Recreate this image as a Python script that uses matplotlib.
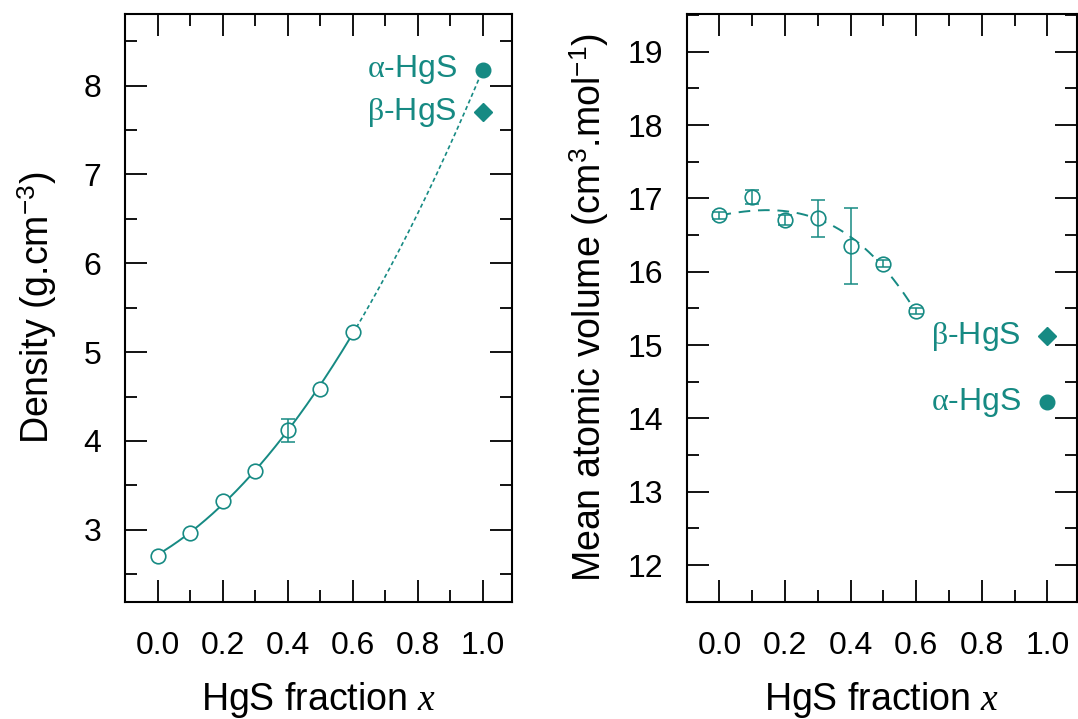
import numpy as np
import matplotlib
matplotlib.use("Agg")
import matplotlib.pyplot as plt
from matplotlib.ticker import MultipleLocator

# ---- data ----
x_glass = [0.0, 0.1, 0.2, 0.3, 0.4, 0.5, 0.6]
density = [2.71, 2.96, 3.33, 3.66, 4.12, 4.585, 5.23]
density_err = [0.0, 0.0, 0.0, 0.0, 0.13, 0.0, 0.0]
volume = [16.77, 17.02, 16.71, 16.73, 16.35, 16.11, 15.46]
volume_err = [0.05, 0.10, 0.07, 0.25, 0.52, 0.05, 0.04]
# dashed fit line through the volume data
volume_fit = [16.77, 16.83, 16.82, 16.73, 16.48, 16.05, 15.45]

x_cryst = 1.0
alpha_density = 8.18
beta_density = 7.70
alpha_volume = 14.22
beta_volume = 15.12

xticks = [0.0, 0.2, 0.4, 0.6, 0.8, 1.0]
xtick_labels = ["0.0", "0.2", "0.4", "0.6", "0.8", "1.0"]

teal = "#168a83"

plt.rcParams['font.family'] = ['Liberation Sans', 'DejaVu Sans']
plt.rcParams['mathtext.fontset'] = 'custom'
plt.rcParams['mathtext.it'] = 'Liberation Serif:italic'
plt.rcParams['mathtext.rm'] = 'Liberation Sans'
plt.rcParams['mathtext.sf'] = 'Liberation Serif'

fig = plt.figure(figsize=(10.78, 7.19), dpi=100)
ax1 = fig.add_axes([0.116, 0.163, 0.359, 0.818])
ax2 = fig.add_axes([0.637, 0.163, 0.362, 0.818])

# fit curves (from data)
xs = np.array(x_glass)
c1 = np.polyfit(np.append(xs, x_cryst), np.append(density, alpha_density), 2)
xf = np.linspace(0, 0.6, 200)
xd = np.linspace(0.6, 1.0, 200)
ax1.plot(xf, np.polyval(c1, xf), color=teal, lw=1.4, zorder=2)
ax1.plot(xd, np.polyval(c1, xd), color=teal, lw=1.2, ls=(0, (2.5, 1.8)), zorder=2)

def data_points(ax, y, yerr):
    ax.plot(x_glass, y, 'o', ls='none', ms=10.5, mfc='white', mec=teal, mew=1.2, zorder=3)
    sel = [i for i, e in enumerate(yerr) if e > 0]
    ax.errorbar([x_glass[i] for i in sel], [y[i] for i in sel],
                yerr=[yerr[i] for i in sel], fmt='none', ecolor=teal,
                elinewidth=1.1, capsize=5, capthick=1.1, zorder=4)

data_points(ax1, density, density_err)
ax1.plot([x_cryst], [alpha_density], 'o', color=teal, ms=10.5, zorder=4)
ax1.plot([x_cryst], [beta_density], 'D', color=teal, ms=9, zorder=4)
ax1.text(0.92, alpha_density, r"$\mathsf{\alpha}$-HgS", color=teal, fontsize=23,
         ha='right', va='center')
ax1.text(0.92, beta_density, r"$\mathsf{\beta}$-HgS", color=teal, fontsize=23,
         ha='right', va='center')

c2 = np.polyfit(xs, volume_fit, 3)
ax2.plot(xf, np.polyval(c2, xf), color=teal, lw=1.4, ls=(0, (6, 4)), zorder=2)
data_points(ax2, volume, volume_err)
ax2.plot([x_cryst], [alpha_volume], 'o', color=teal, ms=10.5, zorder=4)
ax2.plot([x_cryst], [beta_volume], 'D', color=teal, ms=9, zorder=4)
ax2.text(0.92, alpha_volume, r"$\mathsf{\alpha}$-HgS", color=teal, fontsize=23,
         ha='right', va='center')
ax2.text(0.92, beta_volume, r"$\mathsf{\beta}$-HgS", color=teal, fontsize=23,
         ha='right', va='center')

ax1.set_ylim(2.19, 8.81)
ax2.set_ylim(11.5, 19.52)
ax1.yaxis.set_major_locator(MultipleLocator(1))
ax1.yaxis.set_minor_locator(MultipleLocator(0.5))
ax2.yaxis.set_major_locator(MultipleLocator(1))
ax2.yaxis.set_minor_locator(MultipleLocator(0.5))

for ax in (ax1, ax2):
    ax.set_xlim(-0.1, 1.09)
    ax.set_xticks(xticks)
    ax.set_xticklabels(xtick_labels)
    ax.xaxis.set_minor_locator(MultipleLocator(0.1))
    ax.tick_params(which='major', direction='in', length=16, width=1.3,
                   top=True, right=True, labelsize=23, pad=17)
    ax.tick_params(which='minor', direction='in', length=8.5, width=1.3,
                   top=True, right=True)
    ax.tick_params(axis='x', which='major', pad=21)
    for s in ax.spines.values():
        s.set_linewidth(1.5)
    ax.set_xlabel(r"HgS fraction $x$", fontsize=27, labelpad=14)

ax1.set_ylabel(r"Density (g.cm$^{-3}$)", fontsize=27, labelpad=18)
ax2.set_ylabel(r"Mean atomic volume (cm$^{3}$.mol$^{-1}$)", fontsize=27, labelpad=12)

fig.savefig("out.png", dpi=100)
